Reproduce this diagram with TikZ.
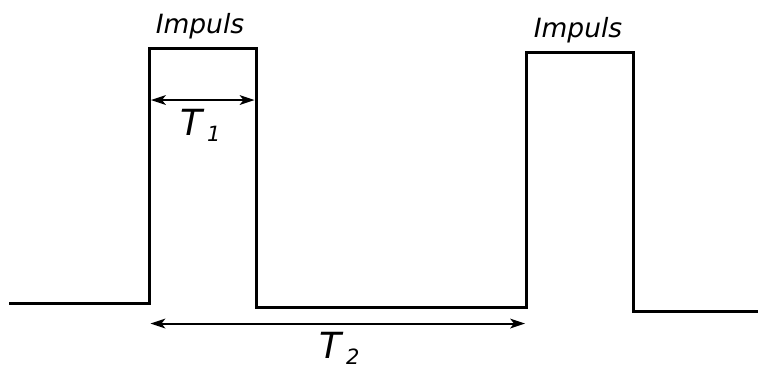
\documentclass[tikz,border=0pt]{standalone}
\usepackage{fontspec}
\setmainfont{DejaVu Sans}

\tikzset{every picture/.style={line width=0.75pt}}

\begin{document}
\begin{tikzpicture}[x=1pt,y=1pt,yscale=-1,xscale=1]
\useasboundingbox (0,0) rectangle (758,365);

%Signal [id:pulses]
    \draw [line width=3, line join=miter]  (9,303.5) -- (149,303.5) -- (149,48) -- (256,48) -- (256,307.5) -- (526,307.5) -- (526,52.5) -- (633,52.5) -- (633,311.5) -- (758,311.5) ;

%Straight Lines [id:arrowT1]
    \coordinate (t1l) at (151,100);
    \coordinate (t1r) at (254.5,100);
    \draw [line width=2, shorten <=10, shorten >=10]    (t1l) -- (t1r) ;
    \fill [shift={(t1r)}, rotate = 0]    (0,0) -- (-15,-5) -- (-11,0) -- (-15,5) -- cycle ;
    \fill [shift={(t1l)}, rotate = 180]    (0,0) -- (-15,-5) -- (-11,0) -- (-15,5) -- cycle ;
%Straight Lines [id:arrowT2]
    \coordinate (t2l) at (150.5,323.5);
    \coordinate (t2r) at (525,323.5);
    \draw [line width=2, shorten <=10, shorten >=10]    (t2l) -- (t2r) ;
    \fill [shift={(t2r)}, rotate = 0]    (0,0) -- (-15,-5) -- (-11,0) -- (-15,5) -- cycle ;
    \fill [shift={(t2l)}, rotate = 180]    (0,0) -- (-15,-5) -- (-11,0) -- (-15,5) -- cycle ;

% Text Node
    \draw (200,33) node [anchor=base][inner sep=0.75pt] (imp1)   {\fontsize{26.5}{30}\selectfont\itshape Impuls};
% Text Node
    \draw (578,37) node [anchor=base][inner sep=0.75pt] (imp2)   {\fontsize{26.5}{30}\selectfont\itshape Impuls};
% Text Node
    \draw (179,135) node [anchor=base west][inner sep=0.75pt] (T1)   {\fontsize{36}{40}\selectfont\itshape T\kern5pt\raisebox{-6pt}{\fontsize{21}{24}\selectfont 1}};
% Text Node
    \draw (318,358) node [anchor=base west][inner sep=0.75pt] (T2)   {\fontsize{36}{40}\selectfont\itshape T\kern5pt\raisebox{-6pt}{\fontsize{21}{24}\selectfont 2}};

\end{tikzpicture}
\end{document}
